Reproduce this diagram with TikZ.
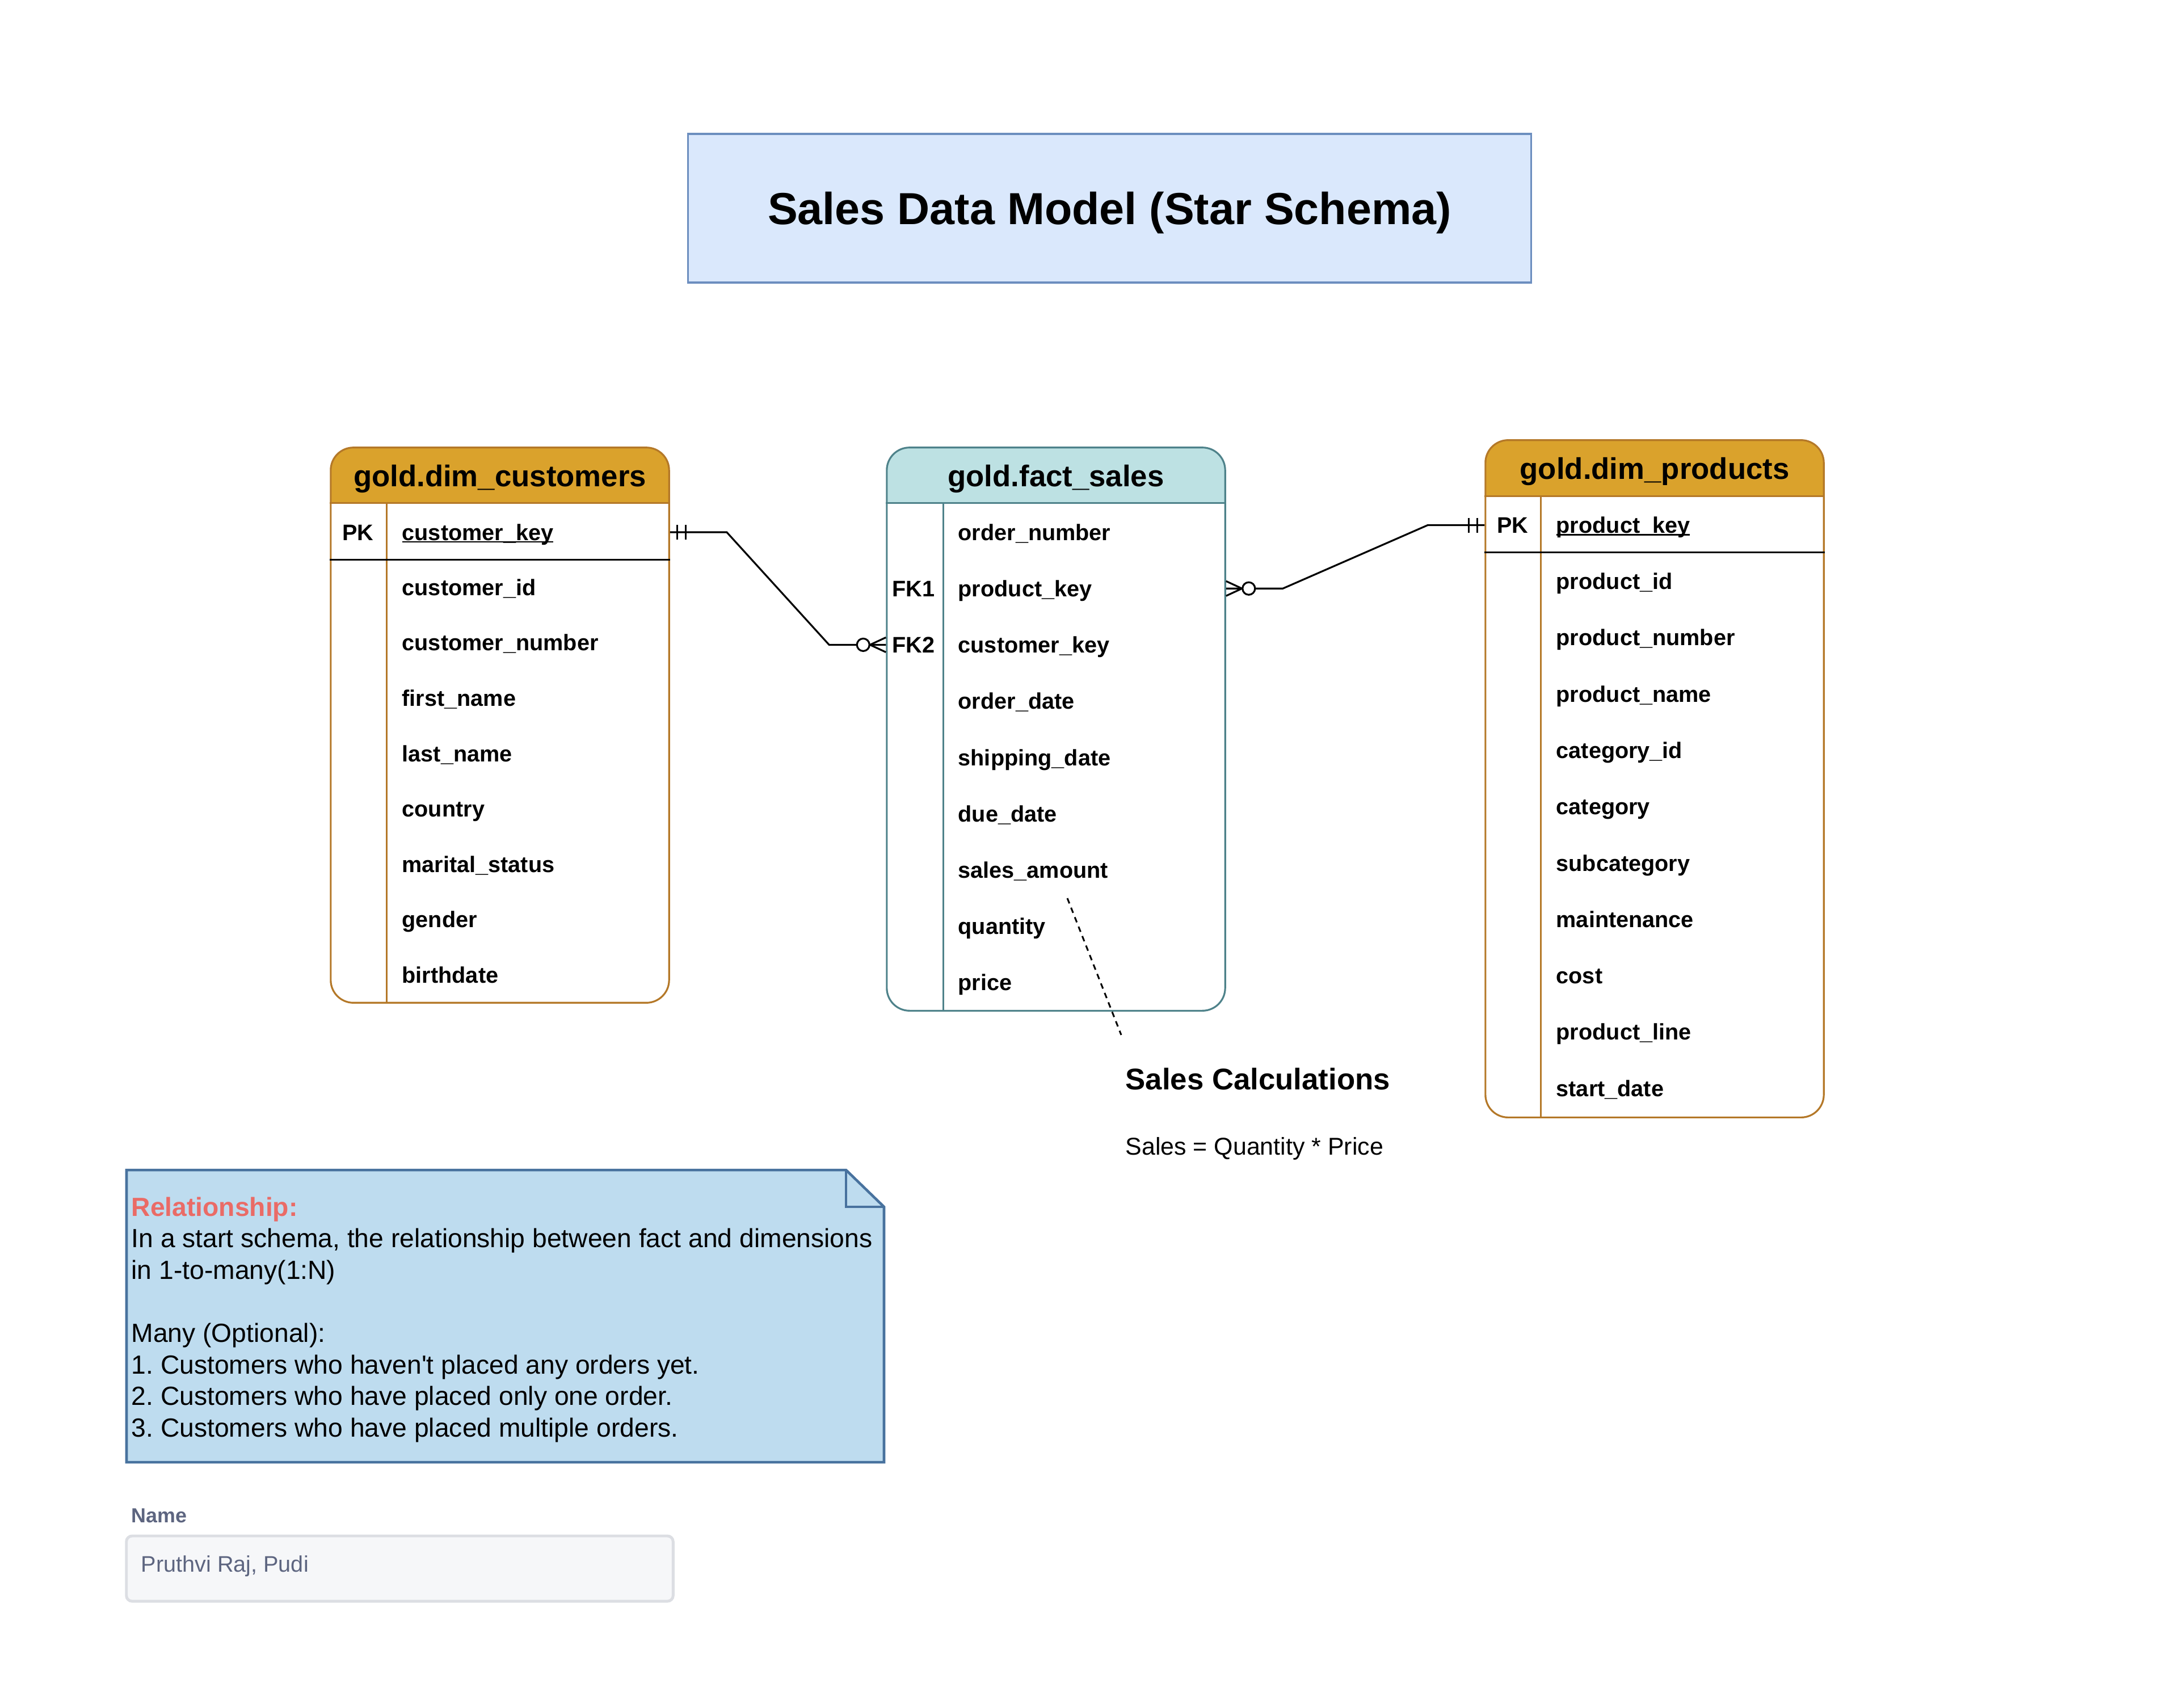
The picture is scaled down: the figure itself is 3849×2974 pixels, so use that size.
\documentclass[tikz,border=0pt]{standalone}
\usepackage{fontspec}
\setmainfont{Liberation Sans}
\usetikzlibrary{calc}

\definecolor{goldfill}{RGB}{218,162,44}
\definecolor{goldline}{RGB}{180,120,40}
\definecolor{tealfill}{RGB}{189,225,227}
\definecolor{tealline}{RGB}{78,130,138}
\definecolor{titlefill}{HTML}{DAE8FC}
\definecolor{titleline}{HTML}{6C8EBF}
\definecolor{notefill}{RGB}{190,220,239}
\definecolor{noteline}{RGB}{72,114,158}
\definecolor{relred}{HTML}{EA6B66}
\definecolor{namegray}{RGB}{93,101,128}
\definecolor{boxline}{RGB}{220,222,227}
\definecolor{boxfill}{RGB}{246,247,249}

% underlined primary key
\newcommand\pkul[1]{\setbox0\hbox{#1}\rlap{\rule[-1.1pt]{\wd0}{0.7pt}}\box0}
\frenchspacing

\tikzset{
  tablebox/.style={draw, line width=0.9pt, rounded corners=0.4cm,
    minimum width=5.96cm, inner sep=0pt},
  headtext/.style={font=\fontsize{15}{18}\selectfont\bfseries, inner sep=0pt,
    text height=10.7pt, text depth=0pt},
  field/.style={anchor=west, font=\fontsize{11.27}{13.5}\selectfont\bfseries,
    inner sep=0pt, text height=8.1pt, text depth=0pt},
  keytag/.style={font=\fontsize{11.27}{13.5}\selectfont\bfseries,
    inner sep=0pt, text height=8.1pt, text depth=0pt},
  rel/.style={line width=0.9pt, black},
  one mark/.pic={\draw[rel] (13,-13) -- (13,13) (28,-13) -- (28,13);},
  many mark/.pic={\draw[rel] (0,-13) -- (28,0) -- (0,13);
    \draw[rel, fill=white] (40,0) circle (0.11cm);}
}

\begin{document}
\begin{tikzpicture}[x=0.01cm, y=-0.01cm]
  \useasboundingbox (0,0) rectangle (3849,2974);

  % title
  \node[draw=titleline, fill=titlefill, line width=0.95pt,
    minimum width=14.85cm, minimum height=2.62cm,
    font=\fontsize{22.5}{27}\selectfont\bfseries,
    text height=16.1pt, text depth=0pt] (title) at (1955.5,367)
    {Sales Data Model (Star Schema)};

  % gold.dim_customers
  \node[tablebox, draw=goldline, minimum height=9.78cm,
    path picture={\fill[goldfill, sharp corners]
      (path picture bounding box.north west) rectangle
      ([yshift=-0.99cm]path picture bounding box.north east);}]
    (cust) at (881,1278) {};
  \draw[goldline, line width=0.9pt] ([yshift=-0.99cm]cust.north west) -- ([yshift=-0.99cm]cust.north east);
  \draw[goldline, line width=0.9pt] ([shift={(1cm,-0.99cm)}]cust.north west) -- ([xshift=1cm]cust.south west);
  \draw[line width=0.9pt] ([yshift=-1.99cm]cust.north west) -- ([yshift=-1.99cm]cust.north east);
  \node[headtext] (cust-title) at (881,838.5) {gold.dim\_customers};
  \node[keytag] (cust-pk) at (631,938) {PK};
  \node[field] (ckey) at (708,938) {\pkul{customer\_key}};
  \foreach \f [count=\i] in {customer\_id,customer\_number,first\_name,last\_name,country,marital\_status,gender,birthdate}
    \node[field] (cust-\i) at (708,937.5+97.6*\i) {\f};

  % gold.fact_sales
  \node[tablebox, draw=tealline, minimum height=9.92cm,
    path picture={\fill[tealfill, sharp corners]
      (path picture bounding box.north west) rectangle
      ([yshift=-0.99cm]path picture bounding box.north east);}]
    (fact) at (1861,1285) {};
  \draw[tealline, line width=0.9pt] ([yshift=-0.99cm]fact.north west) -- ([yshift=-0.99cm]fact.north east);
  \draw[tealline, line width=0.9pt] ([shift={(1.01cm,-0.99cm)}]fact.north west) -- ([xshift=1.01cm]fact.south west);
  \node[headtext] (fact-title) at (1861,838.5) {gold.fact\_sales};
  \foreach \f [count=\i from 0] in {order\_number,product\_key,customer\_key,order\_date,shipping\_date,due\_date,sales\_amount,quantity,price}
    \node[field] (fact-\i) at (1688,938+99.2*\i) {\f};
  \node[keytag] (fk1) at (1610,1037.2) {FK1};
  \node[keytag] (fk2) at (1610,1136.4) {FK2};

  % gold.dim_products
  \node[tablebox, draw=goldline, minimum height=11.93cm,
    path picture={\fill[goldfill, sharp corners]
      (path picture bounding box.north west) rectangle
      ([yshift=-1cm]path picture bounding box.north east);}]
    (prod) at (2916,1372.5) {};
  \draw[goldline, line width=0.9pt] ([yshift=-1cm]prod.north west) -- ([yshift=-1cm]prod.north east);
  \draw[goldline, line width=0.9pt] ([shift={(0.99cm,-1cm)}]prod.north west) -- ([xshift=0.99cm]prod.south west);
  \draw[line width=0.9pt] ([yshift=-1.99cm]prod.north west) -- ([yshift=-1.99cm]prod.north east);
  \node[headtext] (prod-title) at (2916,826) {gold.dim\_products};
  \node[keytag] (prod-pk) at (2666,925.5) {PK};
  \node[field] (pkey) at (2742,925.5) {\pkul{product\_key}};
  \foreach \f [count=\i] in {product\_id,product\_number,product\_name,category\_id,category,subcategory,maintenance,cost,product\_line,start\_date}
    \node[field] (prod-\i) at (2742,925+99.3*\i) {\f};

  % relationships
  \coordinate (ck-out) at (cust.east |- ckey);
  \coordinate (fk2-in) at (fact.west |- fact-2);
  \coordinate (fk1-out) at (fact.east |- fact-1);
  \coordinate (pk-in) at (prod.west |- pkey);
  \draw[rel] (ck-out) -- ([xshift=1cm]ck-out) -- ([xshift=-1cm]fk2-in) -- (fk2-in);
  \draw[rel] (fk1-out) -- ([xshift=1cm]fk1-out) -- ([xshift=-1cm]pk-in) -- (pk-in);
  \pic at (ck-out) {one mark};
  \pic[xscale=-1] at (fk2-in) {many mark};
  \pic at (fk1-out) {many mark};
  \pic[xscale=-1] at (pk-in) {one mark};

  % sales calculation
  \node[anchor=base west, inner sep=0pt, font=\fontsize{15}{18}\selectfont\bfseries]
    (calc) at (1983,1920) {Sales Calculations};
  \node[anchor=base west, inner sep=0pt, font=\fontsize{12.2}{14.6}\selectfont]
    (calc-rule) at (1983,2035) {Sales = Quantity * Price};
  \coordinate (dash-top) at (1881,1583);
  \coordinate (dash-end) at (1976,1824);
  \draw[line width=0.85pt, dash pattern=on 2.8pt off 2.3pt] (dash-top) -- (dash-end);

  % note
  \draw[noteline, fill=notefill, line width=1.3pt]
    (223,2062) -- (1491,2062) -- (1558,2127) -- (1558,2577) -- (223,2577) -- cycle;
  \draw[noteline, line width=1.3pt] (1491,2062) -- (1491,2127) -- (1558,2127);
  \node[anchor=north west, inner sep=0pt, align=left,
    font=\fontsize{13.15}{15.8}\selectfont] (note) at (231,2109)
    {{\color{relred}\bfseries Relationship:}\\
     In a start schema, the relationship between fact and dimensions\\
     in 1-to-many(1:N)\\[15.8pt]
     Many (Optional):\\
     1. Customers who haven\textquotesingle t placed any orders yet.\\
     2. Customers who have placed only one order.\\
     3. Customers who have placed multiple orders.};

  % name field
  \node[anchor=base west, inner sep=0pt, text=namegray,
    font=\fontsize{10.2}{12}\selectfont\bfseries] (name-label) at (231,2683) {Name};
  \node[draw=boxline, fill=boxfill, line width=1.4pt, rounded corners=0.1cm,
    minimum width=9.63cm, minimum height=1.15cm] (name-box) at (704.5,2764.5) {};
  \node[anchor=base west, inner sep=0pt, text=namegray,
    font=\fontsize{11.27}{13.5}\selectfont] (name-val) at (248,2770) {Pruthvi Raj, Pudi};
\end{tikzpicture}
\end{document}
